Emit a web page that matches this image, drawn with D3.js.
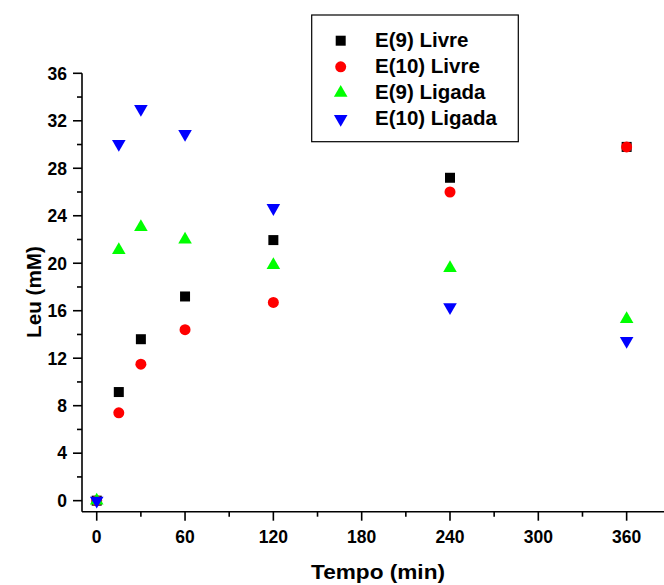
<!DOCTYPE html>
<html><head><meta charset="utf-8">
<script src="https://cdn.jsdelivr.net/npm/d3@7"></script>
<style>body{margin:0;background:#fff}svg{display:block}text{font-family:"Liberation Sans",Arial,sans-serif;font-weight:bold}</style>
</head><body><svg id="c" width="664" height="585"></svg>
<script>
const times = [0, 15, 30, 60, 120, 240, 360];
const e9Livre = [0, 9.15, 13.6, 17.2, 21.95, 27.2, 29.8];
const e10Livre = [0, 7.4, 11.5, 14.4, 16.7, 26.0, 29.8];
const e9Ligada = [0, 21.1, 23.05, 22.0, 19.85, 19.6, 15.3];
const e10Ligada = [0, 30.05, 33.0, 30.9, 24.65, 16.3, 13.45];
const xTicks = [0, 60, 120, 180, 240, 300, 360];
const yTicks = [0, 4, 8, 12, 16, 20, 24, 28, 32, 36];
const seriesNames = ["E(9) Livre", "E(10) Livre", "E(9) Ligada", "E(10) Ligada"];
const seriesColors = ["#000000", "#ff0000", "#00ff00", "#0000ff"];

const series = [
  {name: seriesNames[0], vals: e9Livre, color: seriesColors[0], sym: d3.symbolSquare, size: 100, rot: 0},
  {name: seriesNames[1], vals: e10Livre, color: seriesColors[1], sym: d3.symbolCircle, size: 95, rot: 0},
  {name: seriesNames[2], vals: e9Ligada, color: seriesColors[2], sym: d3.symbolTriangle, size: 80, rot: 0},
  {name: seriesNames[3], vals: e10Ligada, color: seriesColors[3], sym: d3.symbolTriangle, size: 80, rot: 180}
];

const svg = d3.select("#c");
const x = d3.scaleLinear().domain([-10, 390]).range([82, 670.8]);
const y = d3.scaleLinear().domain([-0.93, 36]).range([511.7, 73.3]);

// x axis
const gx = svg.append("g").attr("transform", "translate(0,511.7)");
gx.append("line").attr("x1", 82).attr("x2", 664).attr("stroke", "#000").attr("stroke-width", 1.6);
const xMinor = d3.range(30, 390, 60);
gx.selectAll(".xm").data(xMinor).enter().append("line")
  .attr("x1", d => x(d)).attr("x2", d => x(d)).attr("y1", 0).attr("y2", 5)
  .attr("stroke", "#000").attr("stroke-width", 1.6);
gx.selectAll(".xt").data(xTicks).enter().append("line")
  .attr("x1", d => x(d)).attr("x2", d => x(d)).attr("y1", 0).attr("y2", 9)
  .attr("stroke", "#000").attr("stroke-width", 1.6);
gx.selectAll(".xl").data(xTicks).enter().append("text")
  .attr("x", d => x(d)).attr("y", 31).attr("text-anchor", "middle")
  .attr("font-size", 17.5).text(d => d);

// y axis
const gy = svg.append("g");
gy.append("line").attr("x1", 82).attr("x2", 82).attr("y1", y(36)).attr("y2", 511.7)
  .attr("stroke", "#000").attr("stroke-width", 1.6);
const yMinor = d3.range(2, 36, 4);
gy.selectAll(".ym").data(yMinor).enter().append("line")
  .attr("x1", 77).attr("x2", 82).attr("y1", d => y(d)).attr("y2", d => y(d))
  .attr("stroke", "#000").attr("stroke-width", 1.6);
gy.selectAll(".yt").data(yTicks).enter().append("line")
  .attr("x1", 73).attr("x2", 82).attr("y1", d => y(d)).attr("y2", d => y(d))
  .attr("stroke", "#000").attr("stroke-width", 1.6);
gy.selectAll(".yl").data(yTicks).enter().append("text")
  .attr("x", 67).attr("y", d => y(d) + 6.3).attr("text-anchor", "end")
  .attr("font-size", 17.5).text(d => d);

// axis titles
svg.append("text").attr("x", 378).attr("y", 578.5).attr("text-anchor", "middle")
  .attr("font-size", 20).attr("textLength", 134).attr("lengthAdjust", "spacingAndGlyphs")
  .text("Tempo (min)");
svg.append("text").attr("transform", "translate(41,292) rotate(-90)").attr("text-anchor", "middle")
  .attr("font-size", 20).attr("textLength", 92).attr("lengthAdjust", "spacingAndGlyphs")
  .text("Leu (mM)");

// points
series.forEach(s => {
  const gen = d3.symbol().type(s.sym).size(s.size);
  svg.append("g").selectAll("path").data(times.map((t, i) => [t, s.vals[i]])).enter().append("path")
    .attr("d", gen)
    .attr("transform", d => `translate(${x(d[0])},${y(d[1])}) rotate(${s.rot})`)
    .attr("fill", s.color);
});

// legend
const lg = svg.append("g");
lg.append("rect").attr("x", 311.7).attr("y", 15).attr("width", 206.6).attr("height", 126.7)
  .attr("fill", "#fff").attr("stroke", "#000").attr("stroke-width", 1.2);
series.forEach((s, i) => {
  const cy = 40.7 + i * 26.1;
  lg.append("path").attr("d", d3.symbol().type(s.sym).size(s.size))
    .attr("transform", `translate(340.7,${cy}) rotate(${s.rot})`).attr("fill", s.color);
  lg.append("text").attr("x", 375).attr("y", cy + 5.8).attr("font-size", 20.5).text(s.name);
});
</script></body></html>
